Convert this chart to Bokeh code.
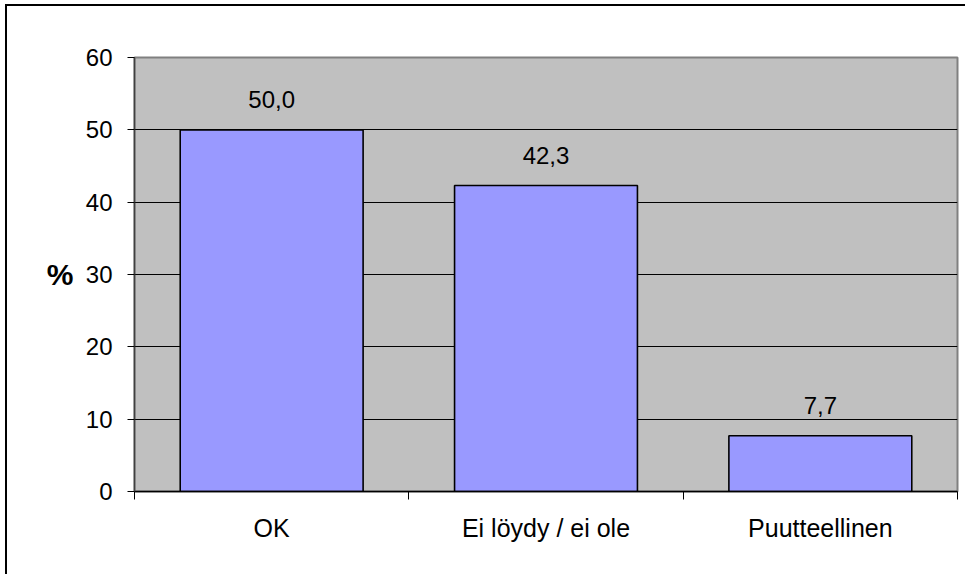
from bokeh.plotting import figure
from bokeh.models import FixedTicker, LinearAxis, ColumnDataSource
from bokeh.core.properties import value
from bokeh.embed import file_html
from bokeh.resources import INLINE

categories = ["OK", "Ei löydy / ei ole", "Puutteellinen"]
values = [50.0, 42.3, 7.7]
value_labels = ["50,0", "42,3", "7,7"]
y_ticks = [0, 10, 20, 30, 40, 50, 60]
y_axis_title = "%"

FONT = "Liberation Sans"

xs = [i + 0.5 for i in range(len(categories))]
src = ColumnDataSource(dict(x=xs, top=values, lab=value_labels))

p = figure(width=960, height=570, output_backend="svg", toolbar_location=None,
           x_range=(0, len(categories)), y_range=(0, 60),
           min_border_left=127, min_border_right=10, min_border_top=51, min_border_bottom=85)

p.background_fill_color = "#C0C0C0"
p.border_fill_color = "white"
p.outline_line_color = "#808080"
p.outline_line_width = 2

p.vbar(x="x", top="top", width=2/3, bottom=0, source=src,
       fill_color="#9999FF", line_color="black", line_width=1.6)

p.text(x="x", y="top", text="lab", source=src, y_offset=-22,
       text_align="center", text_baseline="bottom",
       text_font=value(FONT), text_font_size="24px", text_color="black")

# grid
p.xgrid.grid_line_color = None
p.ygrid.ticker = FixedTicker(ticks=y_ticks)
p.ygrid.grid_line_color = "black"
p.ygrid.grid_line_width = 1

# y axis
ya = p.left[0]
ya.ticker = FixedTicker(ticks=y_ticks)
ya.minor_tick_line_color = None
ya.major_tick_out = 7
ya.major_tick_in = 0
ya.major_tick_line_color = "black"
ya.axis_line_color = "#404040"
ya.axis_line_width = 1.5
ya.major_label_standoff = 15
ya.major_label_text_font = FONT
ya.major_label_text_font_size = "24px"
ya.major_label_text_color = "black"

# "%" title as an outer axis with one horizontal label
ta = LinearAxis(ticker=FixedTicker(ticks=[30]), major_label_overrides={30: y_axis_title})
ta.axis_line_color = None
ta.major_tick_line_color = None
ta.minor_tick_line_color = None
ta.major_tick_out = 0
ta.major_tick_in = 0
ta.major_label_standoff = 9
ta.major_label_text_font = FONT
ta.major_label_text_font_size = "30px"
ta.major_label_text_font_style = "bold"
ta.major_label_text_color = "black"
p.add_layout(ta, "left")

# x axis
xa = p.below[0]
xa.ticker = FixedTicker(ticks=xs, minor_ticks=[float(i) for i in range(len(categories) + 1)])
xa.major_label_overrides = {x: c for x, c in zip(xs, categories)}
xa.major_tick_line_color = None
xa.major_tick_out = 0
xa.major_tick_in = 0
xa.minor_tick_line_color = "black"
xa.minor_tick_out = 8
xa.minor_tick_in = 0
xa.axis_line_color = "black"
xa.axis_line_width = 1.5
xa.major_label_standoff = 14
xa.major_label_text_font = FONT
xa.major_label_text_font_size = "25px"
xa.major_label_text_color = "black"

p.styles = {"margin-left": "5px", "margin-top": "4px",
            "border-left": "2px solid black", "border-top": "2px solid black"}

open("out.html", "w").write(file_html(p, INLINE))
